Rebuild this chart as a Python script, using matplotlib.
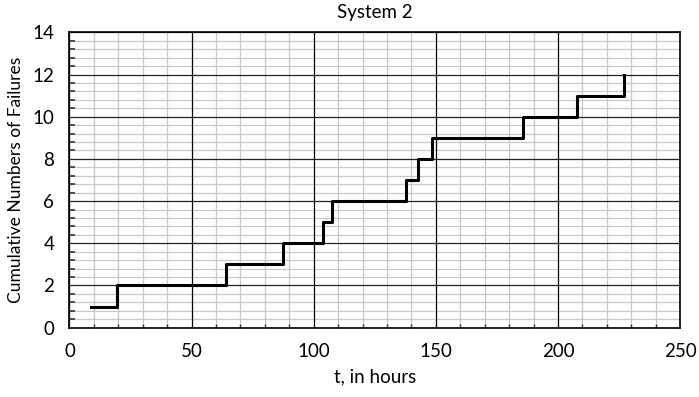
import numpy as np
import matplotlib
matplotlib.use("Agg")
import matplotlib.pyplot as plt
from matplotlib.ticker import MultipleLocator

# failure times (hours) and cumulative failure count
fail_times = [9.0, 19.3, 63.9, 87.5, 103.8, 107.3, 137.7, 142.6, 148.3, 185.7, 207.9, 226.9]
cum_failures = [1, 2, 3, 4, 5, 6, 7, 8, 9, 10, 11, 12]

x_major = [0, 50, 100, 150, 200, 250]
y_major = [0, 2, 4, 6, 8, 10, 12, 14]

plt.rcParams['font.family'] = ['Lato', 'DejaVu Sans']
FS = 13.5

fig = plt.figure(figsize=(6.99, 3.97), dpi=100)
ax = fig.add_axes([0.0994, 0.1746, 0.8735, 0.744])

ax.step(fail_times, cum_failures, where='post', color='black', lw=2.2, zorder=3)

ax.set_xlim(0, 250)
ax.set_ylim(0, 14)
ax.set_xticks(x_major)
ax.set_yticks(y_major)
ax.xaxis.set_minor_locator(MultipleLocator(10))
ax.yaxis.set_minor_locator(MultipleLocator(0.4))

# light minor grid, dark major lines drawn on top of it
ax.grid(which='minor', color='#c8c8c8', lw=0.9)
ax.set_axisbelow(True)
for xv in x_major:
    ax.axvline(xv, color='black', lw=0.9, zorder=1)
for yv in y_major:
    ax.axhline(yv, color='#222222', lw=0.9, zorder=1)

ax.tick_params(which='major', length=0, labelsize=FS, pad=11)
ax.tick_params(which='minor', direction='in', length=4, width=1.2, color='#333333')
ax.tick_params(axis='x', which='minor', length=3, width=1)

for sp in ax.spines.values():
    sp.set_color('black')
    sp.set_linewidth(1.2)
    sp.set_zorder(4)

ax.set_title('System 2', fontsize=FS, pad=10)
ax.set_xlabel('t, in hours', fontsize=FS, labelpad=6)
ax.set_ylabel('Cumulative Numbers of Failures', fontsize=12.5, labelpad=6)

fig.savefig('out.png', dpi=100)
